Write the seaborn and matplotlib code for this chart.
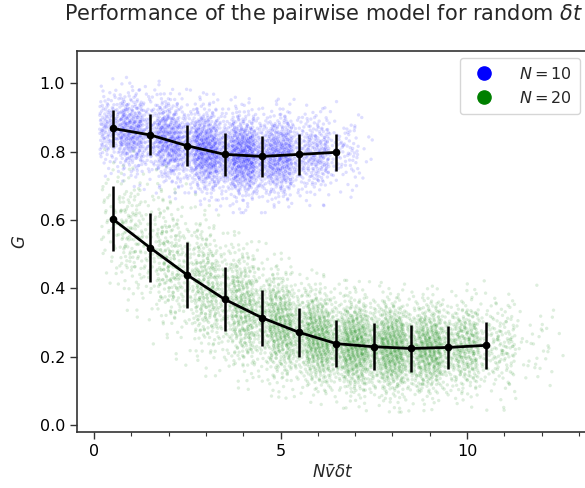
import numpy as np
import pandas as pd
import matplotlib
matplotlib.use("Agg")
import matplotlib.pyplot as plt
from matplotlib.lines import Line2D
from matplotlib.ticker import MultipleLocator
import seaborn as sns
from statistics import NormalDist

# ---- values ----
# binned means and spreads (error bars)
x10 = [0.5, 1.5, 2.5, 3.5, 4.5, 5.5, 6.5]
g10 = [0.868, 0.849, 0.817, 0.792, 0.786, 0.792, 0.798]
e10 = [0.055, 0.060, 0.060, 0.062, 0.060, 0.060, 0.054]

x20 = [0.5, 1.5, 2.5, 3.5, 4.5, 5.5, 6.5, 7.5, 8.5, 9.5, 10.5]
g20 = [0.603, 0.519, 0.439, 0.368, 0.314, 0.271, 0.238, 0.229, 0.224, 0.227, 0.233]
e20 = [0.095, 0.101, 0.097, 0.093, 0.082, 0.072, 0.068, 0.069, 0.068, 0.064, 0.069]

# estimated number of raw samples per x bin (scatter cloud density)
cloud_start10 = [0.15, 1, 2, 3, 4, 5, 6, 6.8]
cloud_stop10 = [1, 2, 3, 4, 5, 6, 6.8, 7.5]
count10 = [340, 480, 640, 760, 720, 430, 130, 18]

cloud_start20 = [0.2, 1, 2, 3, 4, 5, 6, 7, 8, 9, 10, 11, 12]
cloud_stop20 = [1, 2, 3, 4, 5, 6, 7, 8, 9, 10, 11, 12, 12.6]
count20 = [100, 220, 330, 440, 550, 640, 720, 740, 700, 540, 260, 45, 10]

labels = ["$N = 10$", "$N = 20$"]
colors = ["#0000ff", "#008000"]

title = r"Performance of the pairwise model for random $\delta t$"
xlabel = r"$N\bar{v}\delta t$"
ylabel = r"$G$"


def halton(n, base, offset):
    out = np.empty(n)
    for i in range(n):
        f, r, k = 1.0, 0.0, i + 1 + offset
        while k > 0:
            f /= base
            r += f * (k % base)
            k //= base
        out[i] = r
    return out


def cloud(starts, stops, counts, xc, gm, ge, bx, by):
    nd = NormalDist()
    xs, ys = [], []
    off = 0
    last = len(starts) - 1
    for i, (a, b, n) in enumerate(zip(starts, stops, counts)):
        u = halton(n, bx, off)
        v = np.clip(halton(n, by, off), 0.003, 0.997)
        off += n
        # soften bin edges: spread inner bins a little into their neighbours
        lo = a - (0.0 if i == 0 else 0.3)
        hi = b + (0.0 if i == last else 0.3)
        xx = lo + (hi - lo) * u
        z = np.array([nd.inv_cdf(t) for t in v])
        m = np.interp(xx, xc, gm)
        s = np.interp(xx, xc, ge)
        xs.append(xx)
        ys.append(m + s * z)
    return np.concatenate(xs), np.concatenate(ys)


cx10, cy10 = cloud(cloud_start10, cloud_stop10, count10, x10, g10, e10, 2, 3)
cx20, cy20 = cloud(cloud_start20, cloud_stop20, count20, x20, g20, e20, 3, 5)

df = pd.DataFrame({
    "x": np.concatenate([cx10, cx20]),
    "G": np.concatenate([cy10, cy20]),
    "set": [labels[0]] * len(cx10) + [labels[1]] * len(cx20),
})

sns.set_style("ticks")
plt.rcParams["font.family"] = ["DejaVu Sans"]
plt.rcParams["mathtext.fontset"] = "dejavusans"

fig = plt.figure(figsize=(5.85, 4.88), dpi=100)
W, H = 585, 488
ax = fig.add_axes([77 / W, (H - 432) / H, (588 - 77) / W, (432 - 51) / H])

sns.scatterplot(data=df, x="x", y="G", hue="set", palette=dict(zip(labels, colors)),
                s=6, linewidth=0, alpha=0.13, legend=False, ax=ax, zorder=1)

for xs, gs, es in [(x10, g10, e10), (x20, g20, e20)]:
    ax.errorbar(xs, gs, yerr=es, color="black", lw=2, elinewidth=1.8, capsize=0,
                marker="o", ms=4.5, zorder=5)

ax.set_xlim(-0.456, (588 - 94) / 37.3)
ax.set_ylim(-0.0205, 1.0945)
ax.xaxis.set_major_locator(MultipleLocator(5))
ax.xaxis.set_minor_locator(MultipleLocator(1))
ax.yaxis.set_major_locator(MultipleLocator(0.2))
ax.tick_params(axis="both", which="major", labelsize=11.5, length=5, width=1,
               colors="#333333", labelcolor="black")
ax.tick_params(axis="x", which="minor", length=3, width=0.8, colors="#333333")
for sp in ax.spines.values():
    sp.set_color("#333333")
    sp.set_linewidth(1.2)

ax.set_xlabel(xlabel, fontsize=12, labelpad=4)
ax.set_ylabel(ylabel, fontsize=12, labelpad=8)
ax.set_title(title, fontsize=15, pad=22, x=(324 - 77) / (588 - 77))

handles = [Line2D([], [], ls="", marker="o", ms=9.5, color=c) for c in colors]
ax.legend(handles, labels, loc="upper right", bbox_to_anchor=(580 / W, 1 - 58 / H),
          bbox_transform=fig.transFigure, fontsize=11.5, frameon=True,
          borderaxespad=0, handletextpad=1.2, borderpad=0.5, labelspacing=0.5)

fig.savefig("out.png", dpi=100)
